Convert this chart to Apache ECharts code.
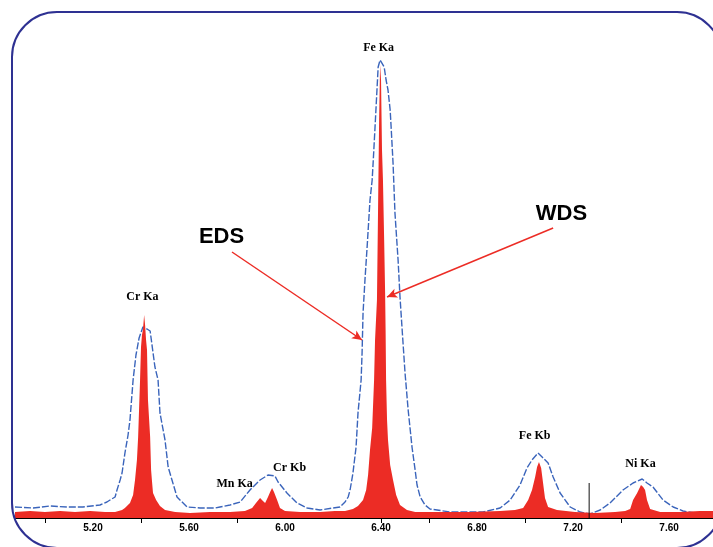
<!DOCTYPE html>
<html>
<head>
<meta charset="utf-8">
<script src="https://cdn.jsdelivr.net/npm/echarts@6.0.0/dist/echarts.min.js"></script>
<style>
    html, body { margin: 0; padding: 0; background: #fff; }
    #spectrum { width: 713px; height: 547px; }
</style>
</head>
<body>
<div id="spectrum"></div>
<script>
// energy (keV) and counts
var edsEnergy = [4.875, 4.950, 5.021, 5.092, 5.158, 5.229, 5.258, 5.271, 5.292, 5.300, 5.313, 5.321, 5.333, 5.346, 5.354, 5.367, 5.379, 5.392, 5.408, 5.425, 5.438, 5.446, 5.458, 5.471, 5.479, 5.500, 5.513, 5.529, 5.550, 5.592, 5.646, 5.708, 5.729, 5.771, 5.813, 5.854, 5.896, 5.929, 5.958, 5.971, 6.008, 6.050, 6.092, 6.146, 6.200, 6.229, 6.250, 6.263, 6.271, 6.283, 6.296, 6.304, 6.317, 6.321, 6.325, 6.333, 6.342, 6.354, 6.363, 6.367, 6.375, 6.383, 6.388, 6.396, 6.404, 6.413, 6.421, 6.429, 6.438, 6.442, 6.450, 6.458, 6.471, 6.479, 6.488, 6.500, 6.513, 6.529, 6.542, 6.550, 6.563, 6.583, 6.604, 6.688, 6.825, 6.896, 6.938, 6.979, 7.008, 7.029, 7.054, 7.071, 7.096, 7.117, 7.146, 7.188, 7.229, 7.271, 7.313, 7.354, 7.408, 7.450, 7.488, 7.508, 7.533, 7.575, 7.617, 7.658, 7.708, 7.783];
var edsCounts = [11, 10, 12, 11, 11, 13, 16, 18, 21, 28, 38, 45, 65, 83, 98, 138, 163, 180, 191, 189, 187, 185, 151, 138, 105, 78, 51, 38, 21, 11, 10, 10, 11, 13, 16, 28, 38, 43, 42, 36, 25, 15, 10, 8, 10, 11, 16, 21, 28, 45, 71, 105, 138, 165, 205, 238, 271, 318, 338, 355, 391, 428, 451, 458, 459, 451, 438, 428, 408, 391, 355, 305, 258, 221, 188, 145, 108, 71, 48, 33, 21, 13, 9, 6, 6, 10, 18, 33, 50, 58, 65, 61, 55, 41, 25, 11, 6, 4, 8, 15, 28, 35, 39, 35, 31, 18, 11, 7, 5, 5];

var wdsEnergy = [4.875, 4.938, 5.000, 5.063, 5.125, 5.188, 5.250, 5.292, 5.321, 5.333, 5.354, 5.367, 5.375, 5.383, 5.388, 5.396, 5.400, 5.404, 5.408, 5.413, 5.417, 5.421, 5.425, 5.429, 5.438, 5.442, 5.446, 5.450, 5.463, 5.479, 5.500, 5.542, 5.604, 5.688, 5.771, 5.833, 5.863, 5.879, 5.896, 5.908, 5.917, 5.929, 5.938, 5.946, 5.954, 5.967, 5.979, 6.000, 6.063, 6.146, 6.208, 6.250, 6.283, 6.304, 6.325, 6.338, 6.346, 6.354, 6.363, 6.371, 6.375, 6.383, 6.388, 6.392, 6.396, 6.400, 6.404, 6.408, 6.413, 6.417, 6.419, 6.421, 6.425, 6.429, 6.438, 6.450, 6.463, 6.479, 6.508, 6.542, 6.646, 6.771, 6.896, 6.958, 6.992, 7.013, 7.029, 7.042, 7.050, 7.058, 7.067, 7.075, 7.083, 7.096, 7.133, 7.208, 7.292, 7.375, 7.417, 7.438, 7.450, 7.467, 7.483, 7.492, 7.500, 7.508, 7.521, 7.563, 7.646, 7.729, 7.783];
var wdsCounts = [6, 7, 6, 7, 6, 7, 6, 6, 8, 10, 15, 23, 38, 58, 81, 138, 171, 183, 188, 203, 193, 178, 168, 118, 81, 48, 36, 25, 18, 12, 8, 6, 5, 6, 6, 7, 10, 15, 20, 17, 15, 21, 26, 30, 26, 18, 10, 7, 6, 6, 7, 7, 9, 12, 18, 28, 43, 68, 90, 138, 178, 218, 318, 398, 453, 438, 368, 338, 278, 225, 188, 138, 98, 78, 53, 38, 23, 13, 8, 6, 6, 6, 7, 8, 10, 18, 28, 41, 51, 56, 50, 35, 20, 11, 8, 6, 5, 6, 7, 9, 18, 25, 33, 31, 28, 18, 9, 6, 6, 7, 7];

var tickValues = [5.0, 5.4, 5.8, 6.4, 6.6, 7.0, 7.4];
var labelValues = [5.2, 5.6, 6.0, 6.4, 6.8, 7.2, 7.6];

var peakNames = ['Fe Ka', 'Cr Ka', 'Mn Ka', 'Cr Kb', 'Fe Kb', 'Ni Ka'];
var peakEnergy = [6.392, 5.408, 5.792, 6.021, 7.042, 7.483];
var peakCounts = [470, 221, 34, 50, 82, 54];

var markerLine = [[7.267, 0], [7.267, 35]];

// annotation text and arrow ends [energy, counts]
var noteNames = ['EDS', 'WDS'];
var noteText = [[5.7375, 281], [7.154, 304]];
var noteArrowFrom = [[5.779, 266], [7.117, 290]];
var noteArrowTo = [[6.321, 178], [6.425, 221]];

function zip(xs, ys) {
    var out = [];
    for (var i = 0; i < xs.length; i++) out.push([xs[i], ys[i]]);
    return out;
}

var red = '#ec2c25';
var blue = '#3a64bb';

var peakData = [];
for (var i = 0; i < peakNames.length; i++) {
    peakData.push({ name: peakNames[i], value: [peakEnergy[i], peakCounts[i]] });
}
var noteData = [];
var arrowData = [];
for (var j = 0; j < noteNames.length; j++) {
    noteData.push({ name: noteNames[j], value: noteText[j] });
    arrowData.push([{ coord: noteArrowFrom[j] }, { coord: noteArrowTo[j] }]);
}

var myChart = echarts.init(document.getElementById('spectrum'));
var option = {
    animation: false,
    grid: { left: 15, right: 0, top: 18, bottom: 29 },
    graphic: [{
        type: 'rect',
        shape: { x: 12, y: 12, width: 710, height: 536, r: 45 },
        style: { fill: 'none', stroke: '#2e3192', lineWidth: 2 },
        z: 100,
        silent: true
    }],
    xAxis: {
        type: 'value',
        min: 4.875,
        max: 7.783,
        axisLine: { lineStyle: { color: '#000', width: 1 } },
        axisTick: {
            customValues: tickValues,
            length: 5,
            lineStyle: { color: '#000' }
        },
        axisLabel: {
            customValues: labelValues,
            margin: 5,
            color: '#000',
            fontFamily: 'Liberation Sans',
            fontWeight: 'bold',
            fontSize: 10,
            formatter: function (v) { return v.toFixed(2); }
        },
        splitLine: { show: false }
    },
    yAxis: {
        type: 'value',
        min: 0,
        max: 500,
        show: false
    },
    series: [{
            name: 'EDS',
            type: 'line',
            data: zip(edsEnergy, edsCounts),
            showSymbol: false,
            lineStyle: { color: blue, width: 1.4, type: [7, 2] },
            z: 2
        },
        {
            name: 'WDS',
            type: 'line',
            data: zip(wdsEnergy, wdsCounts),
            showSymbol: false,
            lineStyle: { width: 0 },
            itemStyle: { color: red },
            areaStyle: { color: red, opacity: 1 },
            z: 3
        },
        {
            name: 'marker',
            type: 'line',
            data: markerLine,
            showSymbol: false,
            lineStyle: { color: '#111', width: 1 },
            z: 4
        },
        {
            name: 'peaks',
            type: 'scatter',
            data: peakData,
            symbolSize: 1,
            itemStyle: { color: 'rgba(0,0,0,0)', opacity: 1 },
            label: {
                show: true,
                position: [0, 0],
                align: 'center',
                verticalAlign: 'middle',
                formatter: '{b}',
                color: '#000',
                fontFamily: 'Liberation Serif',
                fontWeight: 'bold',
                fontSize: 12
            },
            z: 5
        },
        {
            name: 'notes',
            type: 'scatter',
            data: noteData,
            symbolSize: 1,
            itemStyle: { color: 'rgba(0,0,0,0)', opacity: 1 },
            label: {
                show: true,
                position: [0, 0],
                align: 'center',
                verticalAlign: 'middle',
                formatter: '{b}',
                color: '#000',
                fontFamily: 'Liberation Sans',
                fontWeight: 'bold',
                fontSize: 22
            },
            markLine: {
                silent: true,
                symbol: ['none', 'arrow'],
                symbolSize: [7, 10],
                label: { show: false },
                lineStyle: { color: red, width: 1.5, type: 'solid', opacity: 1 },
                data: arrowData
            },
            z: 6
        }
    ]
};
myChart.setOption(option);
</script>
</body>
</html>
